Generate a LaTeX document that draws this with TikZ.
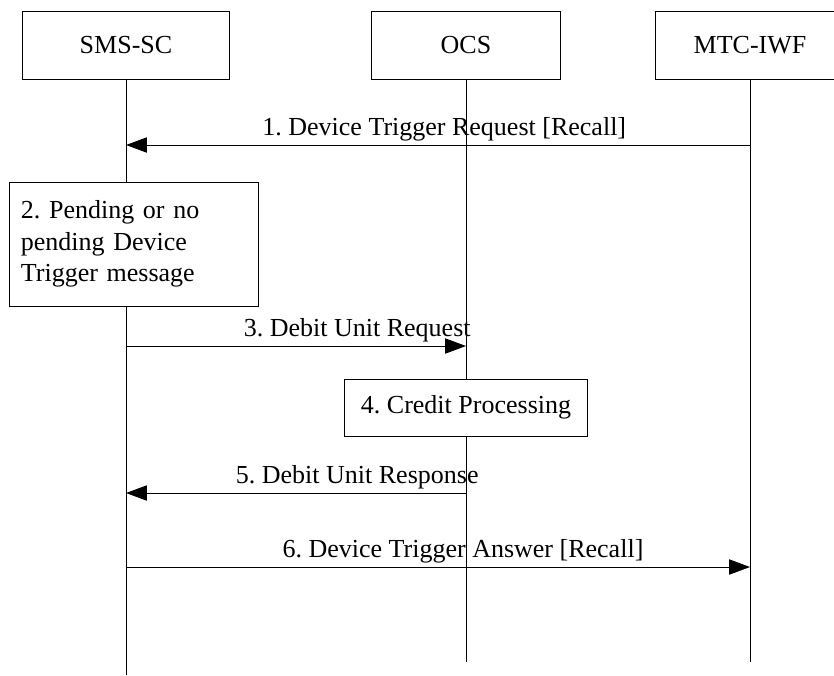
\documentclass[tikz,border=0pt]{standalone}
\usepackage{fontspec}
\setmainfont{Liberation Serif}
\usetikzlibrary{arrows.meta}
\frenchspacing

\begin{document}
\begin{tikzpicture}[node distance=8.5cm, line width=0.7pt,
    font=\fontsize{18.5}{22.4}\selectfont,
    entity/.style={rectangle, draw, fill=white, minimum height=1.7cm},
    procbox/.style={rectangle, draw, fill=white},
    msg/.style={-{Triangle[length=0.52cm, width=0.38cm]}},
    lbl/.style={above, inner sep=2.5pt}]

    \useasboundingbox (0,0) rectangle (20.85,-16.875);

    \node [entity, minimum width=5.175cm] (sms) at (3.15,-1.125) {SMS-SC};
    \node [entity, minimum width=4.725cm] (ocs) [right of=sms] {OCS};
    \node [entity, minimum width=4.75cm, node distance=7.1cm] (mtc) [right of=ocs] {MTC-IWF};

    % lifelines
    \coordinate (smsend) at (sms |- 0,-16.875);
    \coordinate (ocsend) at (ocs |- 0,-16.55);
    \coordinate (mtcend) at (mtc |- 0,-16.55);
    \draw (sms.south) -- (smsend);
    \draw (ocs.south) -- (ocsend);
    \draw (mtc.south) -- (mtcend);

    \coordinate (r1) at (0,-3.625);
    \coordinate (r3) at (0,-8.65);
    \coordinate (r5) at (0,-12.325);
    \coordinate (r6) at (0,-14.175);

    \node [procbox, text width=5.675cm, inner xsep=0.275cm, minimum height=3.1cm, align=left] (pend) at ([xshift=0.21cm]sms |- 0,-6.1) {2. Pending or no\\ pending Device\\ Trigger message};
    \node [procbox, minimum width=6.075cm, minimum height=1.425cm] (credit) at (ocs |- 0,-10.1875) {4. Credit Processing};

    \draw[msg] (mtc |- r1) -- node[lbl, pos=0.49] {1. Device Trigger Request [Recall]} (sms |- r1);
    \draw[msg] (sms |- r3) -- node[lbl, pos=0.68] {3. Debit Unit Request} (ocs |- r3);
    \draw[msg] (ocs |- r5) -- node[lbl, pos=0.32] {5. Debit Unit Response} (sms |- r5);
    \draw[msg] (sms |- r6) -- node[lbl, pos=0.54] {6. Device Trigger Answer [Recall]} (mtc |- r6);

\end{tikzpicture}
\end{document}
